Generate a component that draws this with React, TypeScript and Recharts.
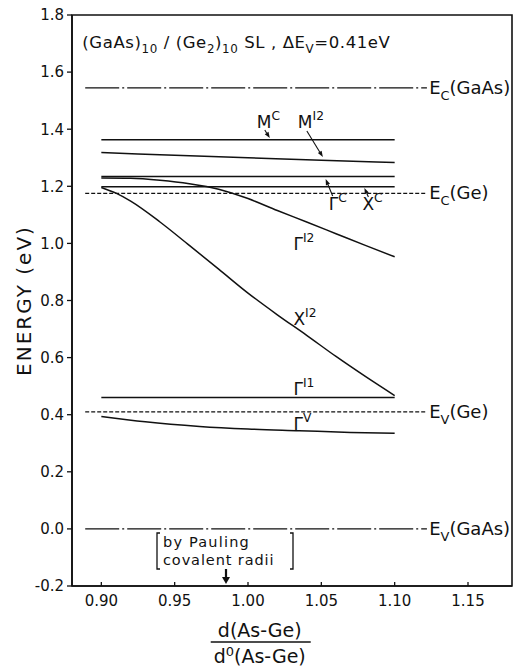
import { LineChart, Line, XAxis, YAxis, ReferenceArea, ReferenceDot } from 'recharts';

const FONT = '"DejaVu Sans", sans-serif';
const INK = '#111';

const X_TICKS = [0.9, 0.95, 1.0, 1.05, 1.1, 1.15];
const Y_TICKS = [-0.2, 0, 0.2, 0.4, 0.6, 0.8, 1.0, 1.2, 1.4, 1.6, 1.8];

// bulk band edges (reference levels), eV
const levelX = [0.889, 1.122];
const ecGaAs = [1.545, 1.545];
const ecGe = [1.175, 1.175];
const evGe = [0.41, 0.41];
const evGaAs = [0.0, 0.0];

// superlattice states vs d/d0
const flatX = [0.9, 1.1];
const mC = [1.363, 1.363];
const gammaC = [1.234, 1.234];
const xC = [1.198, 1.198];
const gammaI1 = [0.46, 0.46];

const mI2X = [0.9, 0.95, 1.0, 1.05, 1.1];
const mI2 = [1.318, 1.309, 1.3, 1.291, 1.283];

const gammaI2X = [0.9, 0.92, 0.94, 0.96, 0.98, 1.0, 1.02, 1.04, 1.06, 1.08, 1.1];
const gammaI2 = [1.229, 1.228, 1.221, 1.209, 1.19, 1.157, 1.115, 1.075, 1.034, 0.993, 0.953];

const xI2X = [0.9, 0.91, 0.92, 0.94, 0.96, 0.98, 1.0, 1.02, 1.04, 1.06, 1.08, 1.1];
const xI2 = [1.196, 1.176, 1.148, 1.075, 0.993, 0.91, 0.826, 0.75, 0.678, 0.604, 0.534, 0.467];

const gammaVX = [0.9, 0.93, 0.967, 1.0, 1.035, 1.07, 1.1];
const gammaV = [0.394, 0.375, 0.359, 0.35, 0.344, 0.338, 0.335];

const PAULING_RATIO = 0.985;

const zip = (xs: number[], ys: number[]) => xs.map((x, i) => ({ x, y: ys[i] }));

type Seg = [string, 'n' | 'sub' | 'sup'];

function Rich({ x, y, segs, size, dy = 0, spacing = 0 }: { x: number; y: number; segs: Seg[]; size: number; dy?: number; spacing?: number }) {
  let shift = 0;
  return (
    <text x={x} y={y + dy} fontSize={size} fontFamily={FONT} fill={INK} letterSpacing={spacing}>
      {segs.map(([t, k], i) => {
        const target = k === 'sub' ? size * 0.32 : k === 'sup' ? -size * 0.45 : 0;
        const d = target - shift;
        shift = target;
        return (
          <tspan key={i} dy={d} fontSize={k === 'n' ? size : size * 0.72}>
            {t}
          </tspan>
        );
      })}
    </text>
  );
}

function Arrow({ x1, y1, x2, y2, w = 1.1, head = 6, half = 2.2 }: { x1: number; y1: number; x2: number; y2: number; w?: number; head?: number; half?: number }) {
  const a = Math.atan2(y2 - y1, x2 - x1);
  const bx = x2 - head * Math.cos(a), by = y2 - head * Math.sin(a);
  const px = -Math.sin(a) * half, py = Math.cos(a) * half;
  return (
    <g>
      <line x1={x1} y1={y1} x2={bx} y2={by} stroke={INK} strokeWidth={w} />
      <polygon points={`${x2},${y2} ${bx + px},${by + py} ${bx - px},${by - py}`} fill={INK} />
    </g>
  );
}

type Note = {
  x: number;
  y: number;
  segs: Seg[];
  size: number;
  dy?: number;
  spacing?: number;
  arrow?: [number, number, number, number];
};

const notes: Note[] = [
  { x: 0.887, y: 1.684, size: 16.5, spacing: 0.6, segs: [['(GaAs)', 'n'], ['10', 'sub'], [' / (Ge', 'n'], ['2', 'sub'], [')', 'n'], ['10', 'sub'], ['  SL , ΔE', 'n'], ['V', 'sub'], ['=0.41eV', 'n']] },
  { x: 1.006, y: 1.404, size: 17, segs: [['M', 'n'], ['C', 'sup']], arrow: [8, 2, 13, 10] },
  { x: 1.034, y: 1.404, size: 17, segs: [['M', 'n'], ['I2', 'sup']], arrow: [9, 3, 25, 29] },
  { x: 1.055, y: 1.117, size: 17, segs: [['Γ', 'n'], ['C', 'sup']], arrow: [4, -14, -3, -31] },
  { x: 1.078, y: 1.117, size: 17, segs: [['X', 'n'], ['C', 'sup']], arrow: [6, -13, 2, -22] },
  { x: 1.031, y: 0.977, size: 17, segs: [['Γ', 'n'], ['I2', 'sup']] },
  { x: 1.031, y: 0.714, size: 17, segs: [['X', 'n'], ['I2', 'sup']] },
  { x: 1.031, y: 0.469, size: 17, segs: [['Γ', 'n'], ['I1', 'sup']] },
  { x: 1.031, y: 0.346, size: 17, segs: [['Γ', 'n'], ['V', 'sup']] },
  { x: 1.1235, y: 1.545, size: 18, dy: 6, segs: [['E', 'n'], ['C', 'sub'], ['(GaAs)', 'n']] },
  { x: 1.1235, y: 1.175, size: 18, dy: 6, segs: [['E', 'n'], ['C', 'sub'], ['(Ge)', 'n']] },
  { x: 1.1235, y: 0.41, size: 18, dy: 6, segs: [['E', 'n'], ['V', 'sub'], ['(Ge)', 'n']] },
  { x: 1.1235, y: 0.0, size: 18, dy: 6, segs: [['E', 'n'], ['V', 'sub'], ['(GaAs)', 'n']] },
];

const XTick = (p: any) => {
  const { x, y, payload } = p;
  return (
    <g>
      <line x1={x} y1={y} x2={x} y2={y - 4} stroke={INK} strokeWidth={1.3} />
      <text x={x} y={y + 20} textAnchor="middle" fontSize={15} fontFamily={FONT} fill={INK}>
        {Number(payload.value).toFixed(2)}
      </text>
    </g>
  );
};

const lineProps = {
  type: 'monotone' as const,
  dataKey: 'y',
  stroke: INK,
  strokeWidth: 1.5,
  dot: false,
  activeDot: false,
  isAnimationActive: false,
};

export default function App() {
  return (
    <div style={{ position: 'absolute', left: 0, top: 0, background: '#fff' }}>
      <LineChart width={514} height={667} margin={{ top: 15, right: 2, left: 0, bottom: 0 }}>
        <XAxis
          type="number"
          dataKey="x"
          domain={[0.88, 1.18]}
          ticks={X_TICKS}
          allowDataOverflow
          height={81}
          tickSize={0}
          tickMargin={0}
          tickLine={false}
          tick={XTick}
          axisLine={{ stroke: INK, strokeWidth: 1.6 }}
        />
        <YAxis
          type="number"
          domain={[-0.2, 1.8]}
          ticks={Y_TICKS}
          allowDataOverflow
          width={72}
          tickSize={5}
          tickMargin={3}
          tickLine={{ stroke: INK, strokeWidth: 1.3 }}
          axisLine={{ stroke: INK, strokeWidth: 1.6 }}
          tick={{ fill: INK, fontSize: 15, fontFamily: FONT }}
          tickFormatter={(v: number) => v.toFixed(1)}
        />
        <ReferenceArea x1={0.88} x2={1.18} y1={-0.2} y2={1.8} fill="none" fillOpacity={0} stroke={INK} strokeWidth={1.6} />

        <Line {...lineProps} data={zip(levelX, ecGaAs)} type="linear" strokeWidth={1.3} strokeDasharray="34 3 2 3" />
        <Line {...lineProps} data={zip(levelX, ecGe)} type="linear" strokeWidth={1.3} strokeDasharray="4 2" />
        <Line {...lineProps} data={zip(levelX, evGe)} type="linear" strokeWidth={1.3} strokeDasharray="4 2" />
        <Line {...lineProps} data={zip(levelX, evGaAs)} type="linear" strokeWidth={1.3} strokeDasharray="34 3 2 3" />

        <Line {...lineProps} data={zip(flatX, mC)} />
        <Line {...lineProps} data={zip(mI2X, mI2)} />
        <Line {...lineProps} data={zip(flatX, gammaC)} />
        <Line {...lineProps} data={zip(flatX, xC)} />
        <Line {...lineProps} data={zip(gammaI2X, gammaI2)} />
        <Line {...lineProps} data={zip(xI2X, xI2)} />
        <Line {...lineProps} data={zip(flatX, gammaI1)} />
        <Line {...lineProps} data={zip(gammaVX, gammaV)} />

        {notes.map((n, i) => (
          <ReferenceDot
            key={i}
            x={n.x}
            y={n.y}
            r={0}
            shape={(p: any) => (
              <g>
                <Rich x={p.cx} y={p.cy} segs={n.segs} size={n.size} dy={n.dy ?? 0} spacing={n.spacing ?? 0} />
                {n.arrow && <Arrow x1={p.cx + n.arrow[0]} y1={p.cy + n.arrow[1]} x2={p.cx + n.arrow[2]} y2={p.cy + n.arrow[3]} />}
              </g>
            )}
          />
        ))}

        {/* y-axis title */}
        <ReferenceDot
          x={0.88}
          y={0.8}
          r={0}
          shape={(p: any) => (
            <text
              x={p.cx - 48}
              y={p.cy}
              transform={`rotate(-90 ${p.cx - 48} ${p.cy})`}
              textAnchor="middle"
              dominantBaseline="central"
              fontSize={20}
              letterSpacing={2}
              fontFamily={FONT}
              fill={INK}
            >
              ENERGY (eV)
            </text>
          )}
        />

        {/* Pauling covalent radii marker */}
        <ReferenceDot
          x={PAULING_RATIO}
          y={-0.2}
          r={0}
          shape={(p: any) => {
            const { cx, cy } = p;
            return (
              <g fontFamily={FONT} fill={INK}>
                <path d={`M${cx - 66},${cy - 53} h-3 v36 h3`} stroke={INK} fill="none" strokeWidth={1.3} />
                <path d={`M${cx + 64},${cy - 53} h3 v36 h-3`} stroke={INK} fill="none" strokeWidth={1.3} />
                <text x={cx - 63} y={cy - 39} fontSize={14.5} letterSpacing={1.2}>by Pauling</text>
                <text x={cx - 63} y={cy - 21} fontSize={14.5} letterSpacing={0.9}>covalent radii</text>
                <Arrow x1={cx} y1={cy - 17} x2={cx} y2={cy - 2} w={2.2} head={7} half={4} />
              </g>
            );
          }}
        />

        {/* x-axis title as a fraction */}
        <ReferenceDot
          x={1.008}
          y={-0.2}
          r={0}
          shape={(p: any) => {
            const { cx, cy } = p;
            return (
              <g fontFamily={FONT} fill={INK}>
                <text x={cx} y={cy + 51} fontSize={19} textAnchor="middle">d(As-Ge)</text>
                <line x1={cx - 49} x2={cx + 51} y1={cy + 56} y2={cy + 56} stroke={INK} strokeWidth={1.4} />
                <text x={cx} y={cy + 77} fontSize={19} textAnchor="middle">
                  d<tspan dy={-7} fontSize={13}>0</tspan>
                  <tspan dy={7}>(As-Ge)</tspan>
                </text>
              </g>
            );
          }}
        />
      </LineChart>
    </div>
  );
}
